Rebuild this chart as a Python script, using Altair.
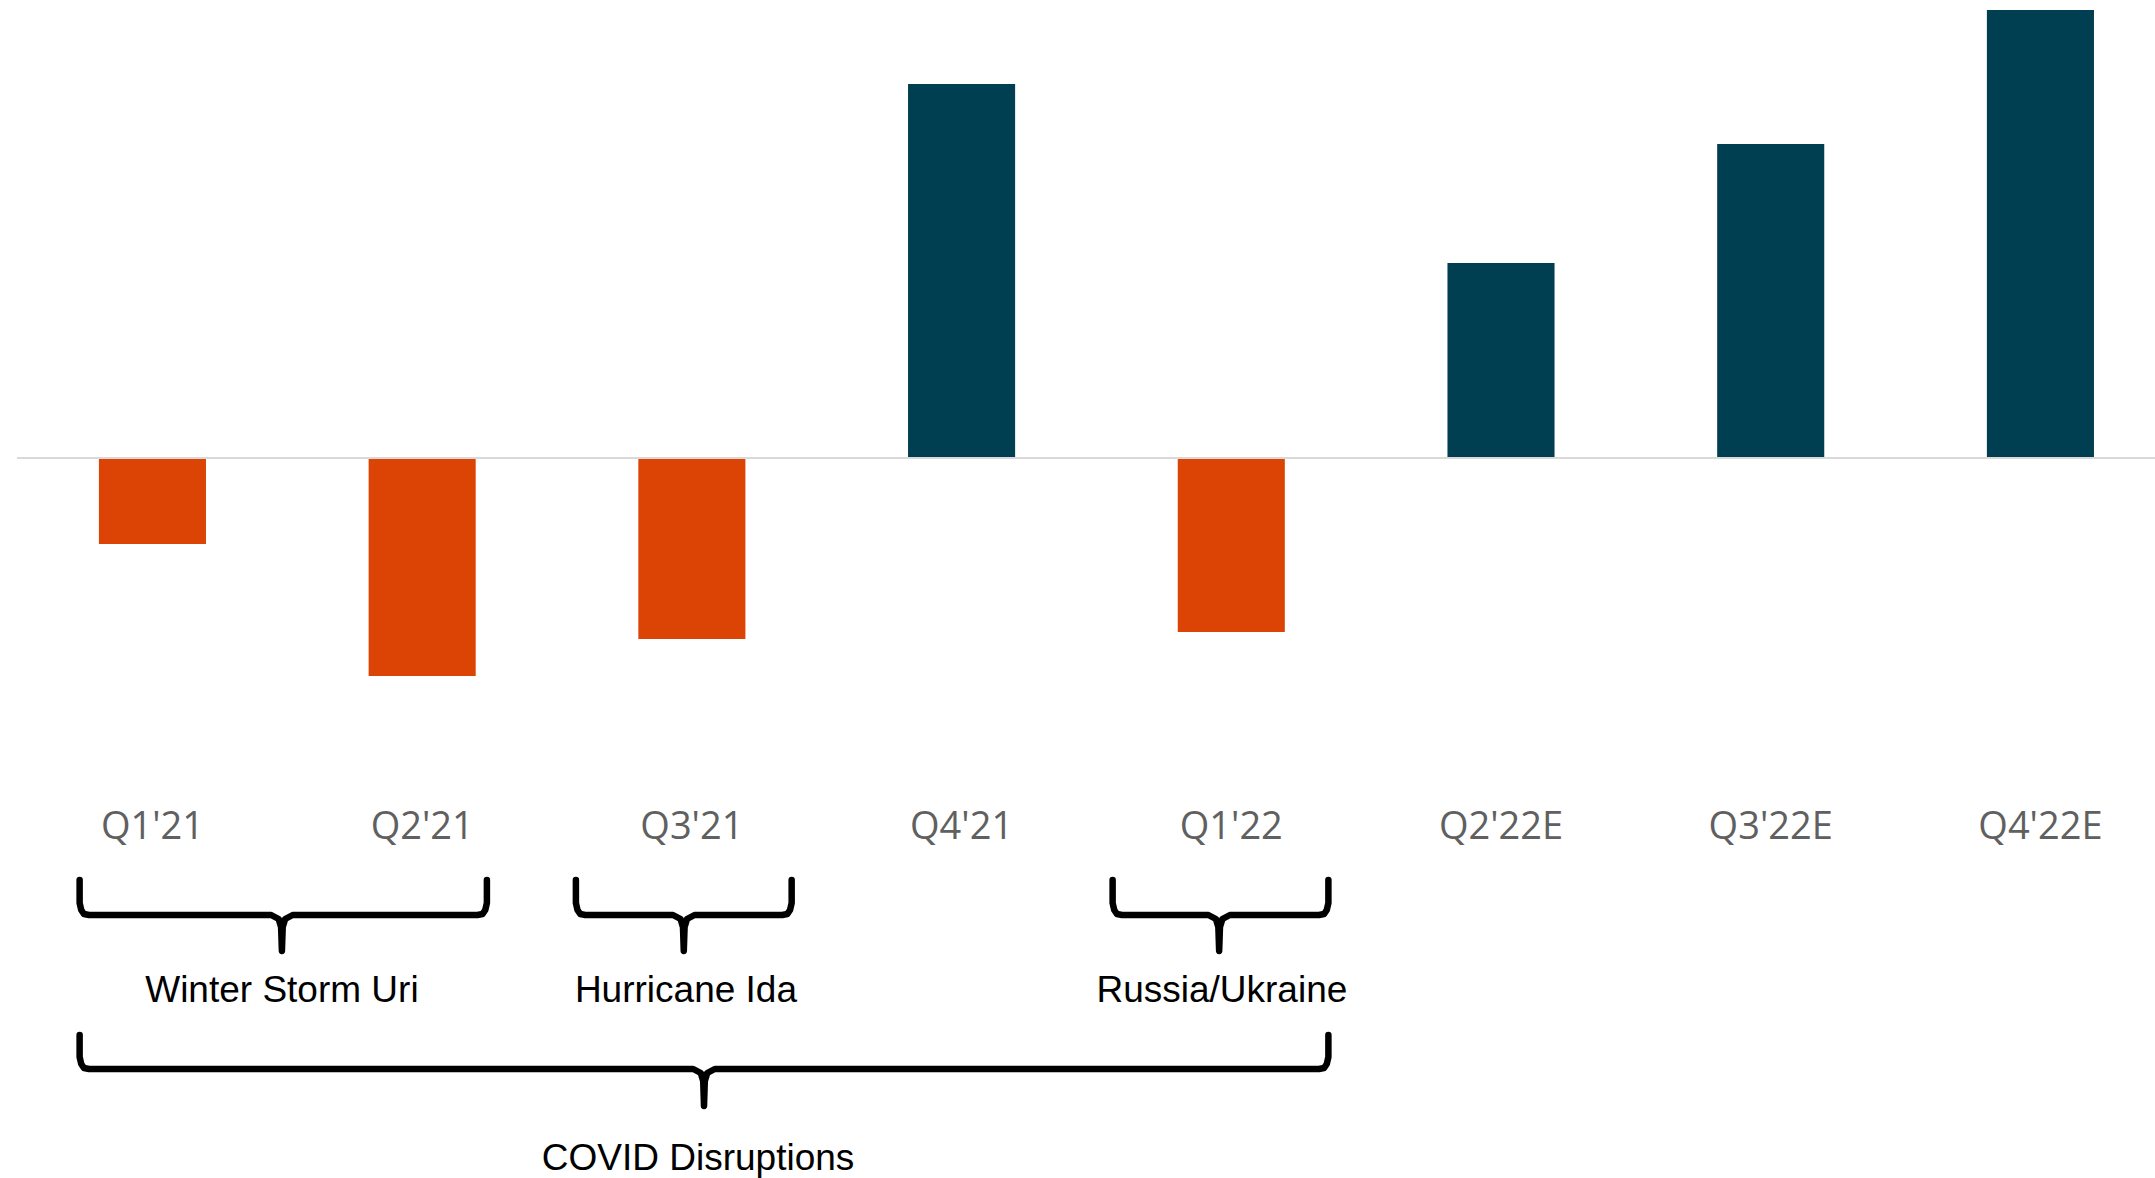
import altair as alt
import pandas as pd

# ---- data ----
quarters = ["Q1'21", "Q2'21", "Q3'21", "Q4'21", "Q1'22", "Q2'22E", "Q3'22E", "Q4'22E"]
values = [-86, -218, -181, 374, -174, 195, 314, 448]

# braces (x in category-index units, y in value units)
brace_names = ["Winter Storm Uri", "Hurricane Ida", "Russia/Ukraine", "COVID Disruptions"]
brace_start = [-0.27, 1.57, 3.56, -0.27]
brace_mid = [0.48, 1.97, 3.955, 2.045]
brace_end = [1.24, 2.37, 4.36, 4.36]
brace_top = [-422, -422, -422, -577]
brace_bar = [-457, -457, -457, -611]
brace_tip = [-493, -493, -493, -648]
label_x = [0.48, 1.978, 3.965, 2.023]
label_y = [-533, -533, -533, -701]

ORANGE = "#DC4405"
TEAL = "#003E51"

bars_df = pd.DataFrame({
    "quarter": quarters,
    "value": values,
    "sign": ["neg" if v < 0 else "pos" for v in values],
})

rows = []
for name, L, M, R, top, bar, tip in zip(brace_names, brace_start, brace_mid, brace_end,
                                        brace_top, brace_bar, brace_tip):
    pts = [
        (L, top), (L, bar + 12), (L + 0.006, bar + 5), (L + 0.016, bar + 1), (L + 0.035, bar),
        (M - 0.04, bar), (M - 0.012, bar - 4), (M - 0.003, bar - 12), (M, tip),
        (M + 0.003, bar - 12), (M + 0.012, bar - 4), (M + 0.04, bar),
        (R - 0.035, bar), (R - 0.016, bar + 1), (R - 0.006, bar + 5), (R, bar + 12), (R, top),
    ]
    for i, (px, py) in enumerate(pts):
        rows.append({"brace": name, "order": i, "bx": px, "by": py})
brace_df = pd.DataFrame(rows)

labels_df = pd.DataFrame({"label": brace_names, "lx": label_x, "ly": label_y})
zero_df = pd.DataFrame({"zero": [0]})

Y_DOMAIN = [-302, 458]
XQ_DOMAIN = [-0.5022, 7.4248]

yscale = alt.Scale(domain=Y_DOMAIN, nice=False, zero=False)
xq = alt.Scale(domain=XQ_DOMAIN, nice=False, zero=False)

bars = alt.Chart(bars_df).mark_bar().encode(
    x=alt.X("quarter:N", sort=quarters,
            scale=alt.Scale(paddingInner=0.603, paddingOuter=0.265, align=0.573),
            axis=alt.Axis(title=None, domain=False, ticks=False, tickSize=0,
                          labelAngle=0, labelFont="Open Sans", labelFontSize=38,
                          labelColor="#606060", labelPadding=48, grid=False)),
    y=alt.Y("value:Q", scale=yscale, axis=None),
    color=alt.Color("sign:N", scale=alt.Scale(domain=["neg", "pos"], range=[ORANGE, TEAL]),
                    legend=None),
)

zero = alt.Chart(zero_df).mark_rule(color="#D9D9D9", strokeWidth=2).encode(
    y=alt.Y("zero:Q", scale=yscale, axis=None),
)

braces = alt.Chart(brace_df).mark_line(
    color="black", strokeWidth=6.5, strokeCap="round", strokeJoin="round"
).encode(
    x=alt.X("bx:Q", scale=xq, axis=None),
    y=alt.Y("by:Q", scale=yscale, axis=None),
    detail="brace:N",
    order="order:Q",
)

texts = alt.Chart(labels_df).mark_text(
    font="Liberation Sans", fontSize=37, color="black", baseline="middle", align="center"
).encode(
    x=alt.X("lx:Q", scale=xq, axis=None),
    y=alt.Y("ly:Q", scale=yscale, axis=None),
    text="label:N",
)

chart = alt.layer(bars, zero, braces, texts).resolve_scale(
    x="independent"
).properties(
    width=2138, height=760,
    autosize=alt.AutoSizeParams(type="none"),
    padding={"left": 17, "top": 0, "right": 0, "bottom": 418},
    background="white",
).configure_view(stroke=None, strokeWidth=0)

chart.save("out.html", embed_options={"renderer": "svg", "actions": False})
